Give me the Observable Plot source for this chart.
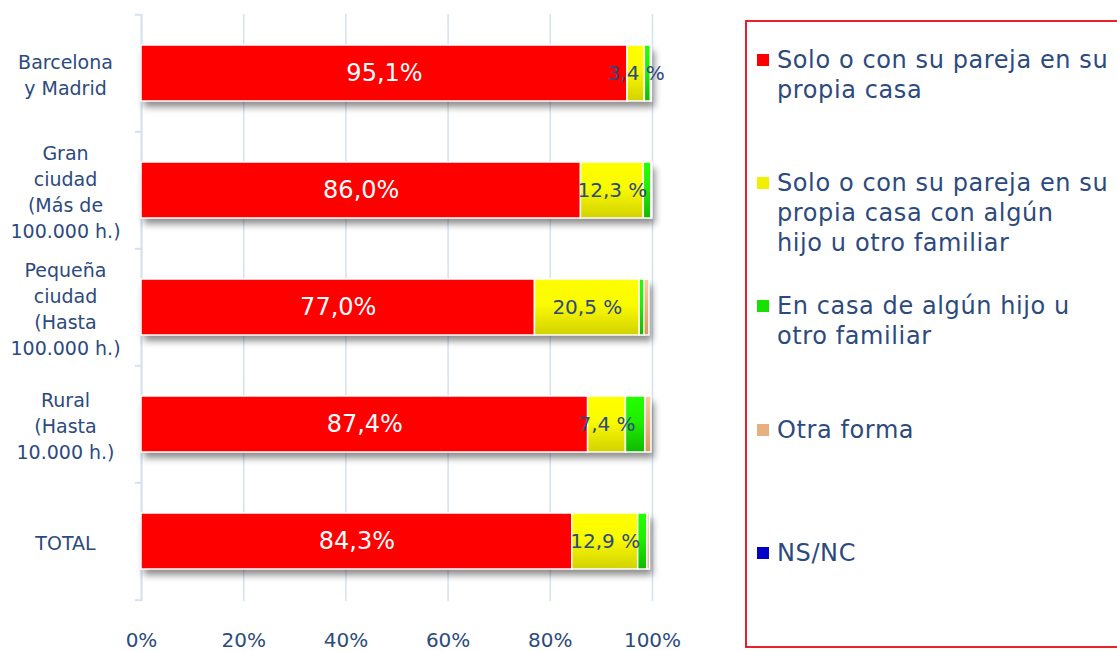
<!DOCTYPE html>
<html>
<head>
<meta charset="utf-8">
<script src="https://cdn.jsdelivr.net/npm/d3@7"></script>
<script src="https://cdn.jsdelivr.net/npm/@observablehq/plot@0.6"></script>
<style>
  html, body { margin: 0; padding: 0; background: #fff; }
  body { width: 1117px; height: 651px; overflow: hidden; position: relative; font-family: "DejaVu Sans", sans-serif; }
  #chart { position: absolute; left: 0; top: 0; }
  #legend { position: absolute; left: 745px; top: 20px; width: 400px; height: 628px; border: 2px solid #e8202a; box-sizing: border-box; }
  .item { position: absolute; left: 30px; font-size: 24px; letter-spacing: 0.6px; line-height: 30px; color: #2c4a7e; white-space: nowrap; }
  .sw { position: absolute; left: 10px; width: 12px; height: 12px; }
</style>
</head>
<body>
<div id="chart"></div>
<div id="legend"></div>
<script>
const categories = ["Barcelona y Madrid", "Gran ciudad (Más de 100.000 h.)", "Pequeña ciudad (Hasta 100.000 h.)", "Rural (Hasta 10.000 h.)", "TOTAL"];
const categoryLabels = ["Barcelona\ny Madrid", "Gran\nciudad\n(Más de\n100.000 h.)", "Pequeña\nciudad\n(Hasta\n100.000 h.)", "Rural\n(Hasta\n10.000 h.)", "TOTAL"];
const series = ["Solo o con su pareja en su propia casa", "Solo o con su pareja en su propia casa con algún hijo u otro familiar", "En casa de algún hijo u otro familiar", "Otra forma", "NS/NC"];
const legendLines = [["Solo o con su pareja en su", "propia casa"], ["Solo o con su pareja en su", "propia casa con algún", "hijo u otro familiar"], ["En casa de algún hijo u", "otro familiar"], ["Otra forma"], ["NS/NC"]];
const soloPropia  = [95.1, 86.0, 77.0, 87.4, 84.3];
const conFamiliar = [3.4, 12.3, 20.5, 7.4, 12.9];
const casaHijo    = [1.2, 1.5, 0.9, 3.8, 1.8];
const otraForma   = [0.2, 0.2, 1.0, 1.2, 0.5];
const nsnc        = [0.0, 0.0, 0.0, 0.0, 0.0];
const xTicks = [0, 20, 40, 60, 80, 100];
const colors = ["#ff0000", "url(#gY)", "url(#gG)", "url(#gO)", "#0000c8"];
const swatches = ["#ff0000", "#f0f000", "#18e000", "#e8b080", "#0000c8"];

const seriesValues = [soloPropia, conFamiliar, casaHijo, otraForma, nsnc];
const data = [];
categories.forEach((c, i) => series.forEach((s, j) => data.push({cat: c, serie: s, value: seriesValues[j][i]})));
const totals = categories.map((c, i) => ({cat: c, total: seriesValues.reduce((a, arr) => a + arr[i], 0)}));
const labelOf = new Map(categories.map((c, i) => [c, categoryLabels[i]]));
const fmt = v => v.toFixed(1).replace(".", ",");
const textColor = "#2c4a7e";
const gridColor = "#d5e1f0";

const H = 651, mTop = 14, mBottom = 50;
const step = (H - mTop - mBottom) / categories.length;

const plot = Plot.plot({
  width: 745,
  height: H,
  marginLeft: 141,
  marginRight: 93,
  marginTop: mTop,
  marginBottom: mBottom,
  style: {fontFamily: "DejaVu Sans, sans-serif", color: textColor, background: "transparent"},
  x: {domain: [0, 100], label: null},
  y: {domain: categories, paddingInner: 0.52, paddingOuter: 0.26, label: null},
  color: {domain: series, range: colors},
  marks: [
    Plot.gridX(xTicks, {stroke: gridColor, strokeOpacity: 1, strokeWidth: 1.5}),
    Plot.ruleX([0], {stroke: gridColor, strokeWidth: 2}),
    Plot.ruleY(categories, {y: d => d, x1: -1.2, x2: 0, dy: -step / 2, stroke: gridColor, strokeWidth: 2}),
    Plot.ruleY(categories.slice(-1), {y: d => d, x1: -1.2, x2: 0, dy: step / 2, stroke: gridColor, strokeWidth: 2}),
    Plot.barX(totals, {y: "cat", x1: 0, x2: "total", fill: "#000", fillOpacity: 0.45, dx: 3, dy: 6}),
    Plot.barX(data, Plot.stackX({y: "cat", x: "value", fill: "serie", order: series, stroke: "white", strokeWidth: 1.5})),
    Plot.text(data, Plot.stackX({y: "cat", x: "value", z: "serie", order: series,
      text: d => d.serie === series[0] ? fmt(d.value) + "%" : "", fill: "white", fontSize: 24})),
    Plot.text(data, Plot.stackX({y: "cat", x: "value", z: "serie", order: series,
      text: d => d.serie === series[1] ? fmt(d.value) + " %" : "", fill: textColor, fontSize: 20})),
    Plot.axisY({tickSize: 0, tickPadding: 0, textAnchor: "middle", dx: -76, fontSize: 19, lineHeight: 1.37,
      tickFormat: d => labelOf.get(d), fill: textColor, label: null}),
    Plot.axisX(xTicks, {tickSize: 0, tickPadding: 31, fontSize: 20, tickFormat: d => d + "%", fill: textColor, label: null})
  ]
});

plot.insertAdjacentHTML("afterbegin", `<defs>
  <linearGradient id="gY" x1="0" y1="0" x2="0" y2="1"><stop offset="0" stop-color="#ffff00"/><stop offset="0.45" stop-color="#fbfb00"/><stop offset="1" stop-color="#d2d200"/></linearGradient>
  <linearGradient id="gG" x1="0" y1="0" x2="0" y2="1"><stop offset="0" stop-color="#22ff00"/><stop offset="0.45" stop-color="#1ef000"/><stop offset="1" stop-color="#12b800"/></linearGradient>
  <linearGradient id="gO" x1="0" y1="0" x2="0" y2="1"><stop offset="0" stop-color="#f8cfa0"/><stop offset="1" stop-color="#d89a60"/></linearGradient>
  <filter id="shadow" x="-5%" y="-50%" width="110%" height="200%"><feGaussianBlur stdDeviation="3.5"/></filter>
</defs>`);
const barGroups = plot.querySelectorAll('g[aria-label="bar"]');
if (barGroups.length) barGroups[0].setAttribute("filter", "url(#shadow)");
document.getElementById("chart").appendChild(plot);

const legendTops = [45, 168, 291, 415, 538];
const legend = document.getElementById("legend");
legendLines.forEach((lines, i) => {
  const top = legendTops[i] - 22;
  const sw = document.createElement("div");
  sw.className = "sw";
  sw.style.top = (top + 9) + "px";
  sw.style.background = swatches[i];
  legend.appendChild(sw);
  const it = document.createElement("div");
  it.className = "item";
  it.style.top = top + "px";
  it.innerHTML = lines.join("<br>");
  legend.appendChild(it);
});
</script>
</body>
</html>
